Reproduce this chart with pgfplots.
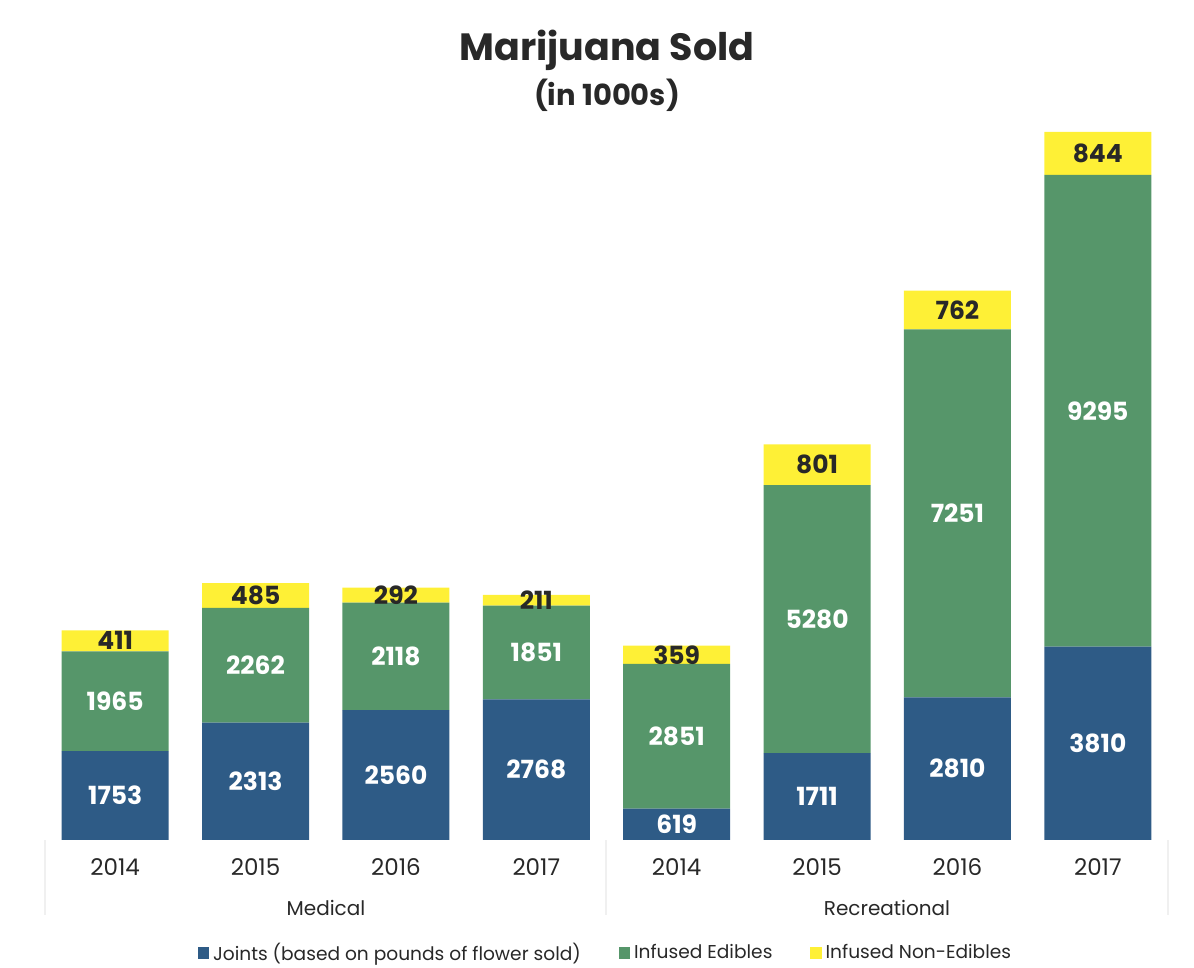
\documentclass[border=0pt]{standalone}
\usepackage{pgfplots}
\pgfplotsset{compat=1.18}
\usepackage{pgfplotstable}
\usepackage{fontspec}
\setmainfont{Poppins}
\definecolor{cblue}{RGB}{46,91,134}
\definecolor{cgreen}{RGB}{86,150,106}
\definecolor{cyellow}{RGB}{254,240,54}
\definecolor{ctext}{RGB}{40,40,40}
\pgfplotstableread{
x j e n
0 1753 1965 411
1 2313 2262 485
2 2560 2118 292
3 2768 1851 211
4 619 2851 359
5 1711 5280 801
6 2810 7251 762
7 3810 9295 844
}\data
\pgfplotsset{
  base/.style={
    at={(22.5pt,64pt)}, anchor=south west,
    scale only axis, width=561.5pt, height=355.3pt,
    xmin=-0.5, xmax=7.5, ymin=0, ymax=14000,
  }
}
\begin{document}
\begin{tikzpicture}
\useasboundingbox (0,0) rectangle (597pt,484pt);
\begin{axis}[base,
  ybar stacked, bar width=53.5pt,
  hide axis,
  legend columns=3,
  legend style={at={(0.5,-0.159)}, anchor=center, draw=none, fill=none,
    font=\fontsize{9.3}{12}\selectfont\color{ctext},
    /tikz/every even column/.append style={column sep=17pt}},
  legend image code/.code={\fill[#1] (0pt,-2.8pt) rectangle (5.6pt,2.8pt);},
]
\addplot[fill=cblue, draw=none] table[x=x,y=j]{\data};
\addlegendentry{Joints (based on pounds of flower sold)}
\addplot[fill=cgreen, draw=none] table[x=x,y=e]{\data};
\addlegendentry{Infused Edibles}
\addplot[fill=cyellow, draw=none] table[x=x,y=n]{\data};
\addlegendentry{Infused Non-Edibles}
\end{axis}
\begin{axis}[base,
  hide y axis,
  axis x line*=bottom, x axis line style={draw=none},
  xtick={0,...,7}, xticklabels={2014,2015,2016,2017,2014,2015,2016,2017},
  major tick length=0pt,
  xticklabel style={anchor=center, yshift=-13.5pt, font=\fontsize{11.5}{13}\selectfont, text=ctext},
  nodes near coords, point meta=explicit symbolic,
  every node near coord/.append style={anchor=center, font=\bfseries\fontsize{12.5}{14}\selectfont},
]
\addplot[draw=none, mark=none, nodes near coords style={text=white}] table[x=x, y expr=\thisrow{j}/2, meta=j]{\data};
\addplot[draw=none, mark=none, nodes near coords style={text=white}] table[x=x, y expr=\thisrow{j}+\thisrow{e}/2, meta=e]{\data};
\addplot[draw=none, mark=none, nodes near coords style={text=ctext}] table[x=x, y expr=\thisrow{j}+\thisrow{e}+\thisrow{n}/2, meta=n]{\data};
\end{axis}
\draw[gray!12, line width=0.6pt] (22.5pt,64pt) -- (22.5pt,26.5pt);
\draw[gray!12, line width=0.6pt] (303pt,64pt) -- (303pt,26.5pt);
\draw[gray!12, line width=0.6pt] (584pt,64pt) -- (584pt,26.5pt);
\node[font=\fontsize{10}{12}\selectfont, text=ctext] at (163pt,30pt) {Medical};
\node[font=\fontsize{10}{12}\selectfont, text=ctext] at (443.5pt,30pt) {Recreational};
\node[font=\bfseries\fontsize{19}{22}\selectfont, text=ctext] at (303.5pt,459pt) {Marijuana Sold};
\node[font=\bfseries\fontsize{14.5}{17}\selectfont, text=ctext] at (303.5pt,436.5pt) {(in 1000s)};
\end{tikzpicture}
\end{document}
